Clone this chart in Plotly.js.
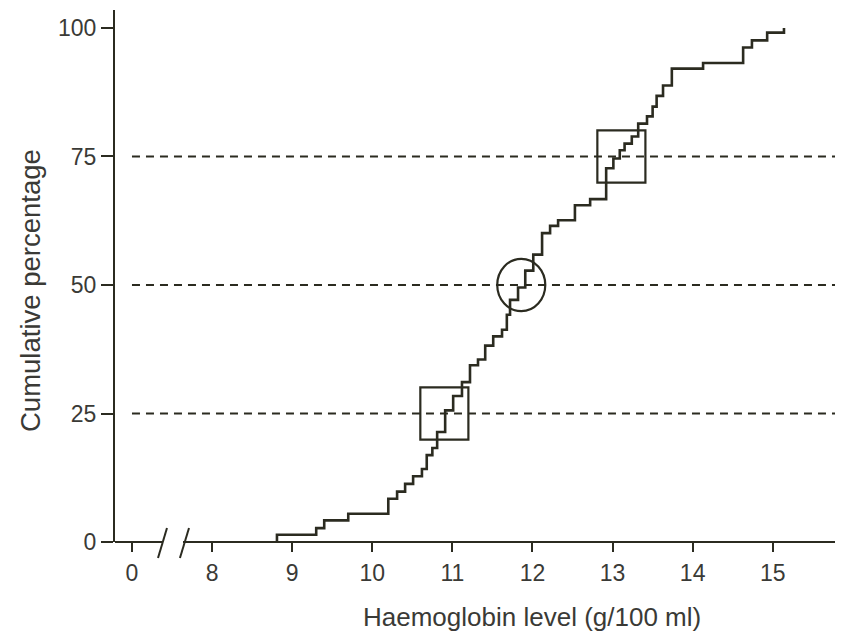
<!DOCTYPE html>
<html>
<head>
<meta charset="utf-8">
<script src="https://cdn.plot.ly/plotly-3.0.1.min.js"></script>
<style>html,body{margin:0;padding:0;background:#fff;}#chart{width:846px;height:638px;}</style>
</head>
<body>
<div id="chart"></div>
<script>
// Haemoglobin level (g/100 ml) at each step of the cumulative curve
const hbLevel = [8.81, 9.30, 9.40, 9.70, 10.20, 10.31, 10.41, 10.51, 10.62, 10.68, 10.75, 10.81,
  10.91, 11.01, 11.12, 11.22, 11.32, 11.41, 11.51, 11.62, 11.68, 11.72, 11.82, 11.91, 12.01,
  12.12, 12.22, 12.32, 12.53, 12.72, 12.92, 13.01, 13.09, 13.15, 13.24, 13.32, 13.43, 13.50,
  13.55, 13.63, 13.74, 14.13, 14.63, 14.74, 14.93, 15.14];
// Cumulative percentage after each step
const cumPct = [1.4, 2.7, 4.2, 5.5, 8.4, 9.8, 11.3, 12.8, 14.2, 16.9, 18.3, 21.4,
  25.6, 28.4, 31.1, 34.4, 35.5, 38.2, 40.0, 41.3, 44.2, 47.1, 49.5, 52.8, 55.9,
  60.1, 61.5, 62.6, 65.5, 66.7, 72.7, 74.6, 76.2, 77.5, 78.9, 81.4, 82.8, 84.7,
  86.8, 88.8, 92.1, 93.2, 96.2, 97.6, 99.1, 100];
// Quartile reference lines and the marked quartile values
const quartilePct = [25, 50, 75];
const quartileHb = [10.9, 11.86, 13.11];
// Tick labels
const xTickLabels = [0, 8, 9, 10, 11, 12, 13, 14, 15];
const yTickLabels = [0, 25, 50, 75, 100];
const xTitle = 'Haemoglobin level (g/100 ml)';
const yTitle = 'Cumulative percentage';

// broken axis: 0..8 compressed into one unit, then linear
function axisPos(v) { return v >= 8 ? v - 7 : v / 8; }

const ink = '#2b2b20';
const textCol = '#3a3a36';
const xr = [-0.212, 8.777];
const yr = [0, 103.5];
const plotH = 532;
function toPaperX(u) { return (u - xr[0]) / (xr[1] - xr[0]); }
function pxToPaperY(px) { return px / plotH; }

const stepX = [axisPos(hbLevel[0])].concat(hbLevel.map(axisPos));
const stepY = [0].concat(cumPct);

const traces = [];
quartilePct.forEach(function (p) {
  traces.push({
    x: [0, xr[1]], y: [p, p], mode: 'lines', type: 'scatter',
    line: {color: ink, width: 2, dash: '8px,6px'}, hoverinfo: 'skip', showlegend: false
  });
});
traces.push({
  x: stepX, y: stepY, mode: 'lines', type: 'scatter',
  line: {color: ink, width: 2.6, shape: 'hv'}, hoverinfo: 'skip', showlegend: false
});

const boxHalfW = 0.3, boxHalfH = 5.1;
const shapes = [];
quartilePct.forEach(function (p, i) {
  const cx = axisPos(quartileHb[i]);
  shapes.push({
    type: p === 50 ? 'circle' : 'rect', xref: 'x', yref: 'y',
    x0: cx - boxHalfW, x1: cx + boxHalfW, y0: p - boxHalfH, y1: p + boxHalfH,
    line: {color: ink, width: 2.2}, fillcolor: 'rgba(0,0,0,0)'
  });
});
// x-axis line with a break between 0 and 8
shapes.push({type: 'line', xref: 'paper', yref: 'paper', x0: 0, x1: toPaperX(0.375), y0: 0, y1: 0, line: {color: ink, width: 2}});
shapes.push({type: 'line', xref: 'paper', yref: 'paper', x0: toPaperX(0.637), x1: 1, y0: 0, y1: 0, line: {color: ink, width: 2}});
[[0.325, 0.437], [0.599, 0.712]].forEach(function (s) {
  shapes.push({type: 'line', xref: 'paper', yref: 'paper',
    x0: toPaperX(s[0]), x1: toPaperX(s[1]), y0: pxToPaperY(-16), y1: pxToPaperY(14),
    line: {color: ink, width: 2}});
});

const fontFam = 'Arial, "Liberation Sans", Helvetica, sans-serif';
const layout = {
  width: 846, height: 638,
  margin: {l: 115, r: 11, t: 10, b: 96, pad: 0, autoexpand: false},
  paper_bgcolor: '#ffffff', plot_bgcolor: '#ffffff',
  font: {family: fontFam, color: textCol},
  showlegend: false,
  xaxis: {
    range: xr, showgrid: false, zeroline: false, showline: false,
    ticks: 'outside', ticklen: 9, tickwidth: 2, tickcolor: ink,
    tickvals: xTickLabels.map(axisPos), ticktext: xTickLabels.map(String),
    tickfont: {size: 23, color: textCol, family: fontFam},
    ticklabelstandoff: 1
  },
  yaxis: {
    range: yr, showgrid: false, zeroline: false, showline: true, linewidth: 2, linecolor: ink,
    ticks: 'outside', ticklen: 12, tickwidth: 2, tickcolor: ink,
    tickvals: yTickLabels, ticktext: yTickLabels.map(String),
    tickfont: {size: 23, color: textCol, family: fontFam}
  },
  annotations: [
    {text: xTitle, xref: 'paper', yref: 'paper', x: toPaperX(5.0), y: pxToPaperY(-75),
     xanchor: 'center', yanchor: 'middle', showarrow: false,
     font: {size: 26, color: textCol, family: fontFam}},
    {text: yTitle, xref: 'paper', yref: 'paper', x: pxToPaperY(-85) * plotH / 720, y: pxToPaperY(542 - 291),
     xanchor: 'center', yanchor: 'middle', textangle: -90, showarrow: false,
     font: {size: 27.5, color: textCol, family: fontFam}}
  ],
  shapes: shapes
};

Plotly.newPlot('chart', traces, layout, {staticPlot: true, displayModeBar: false});
</script>
</body>
</html>
